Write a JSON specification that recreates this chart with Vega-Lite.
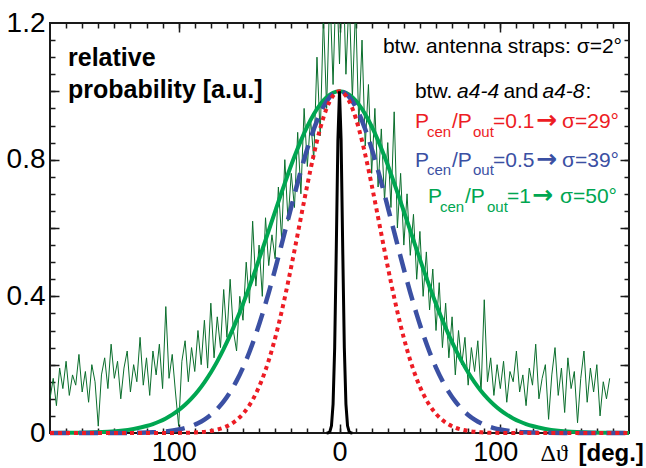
{
  "$schema": "https://vega.github.io/schema/vega-lite/v6.json",
  "width": 579,
  "height": 410,
  "autosize": {"type": "none"},
  "padding": {"left": 50, "top": 23, "right": 17, "bottom": 35},
  "background": "white",
  "config": {
    "view": {"stroke": "#1a1a1a", "strokeWidth": 2},
    "axis": {"grid": false, "domain": false, "tickColor": "#1a1a1a", "tickWidth": 1.5, "labelColor": "#000000", "title": null}
  },
  "datasets": {
    "noise": [
      {"x":-180,"y":0.10},{"x":-178,"y":0.16},{"x":-176,"y":0.08},{"x":-174,"y":0.19},{"x":-172,"y":0.13},{"x":-170,"y":0.21},{"x":-168,"y":0.11},{"x":-166,"y":0.17},{"x":-164,"y":0.14},{"x":-162,"y":0.23},{"x":-160,"y":0.12},{"x":-158,"y":0.18},{"x":-156,"y":0.09},{"x":-154,"y":0.20},{"x":-152,"y":0.15},{"x":-150,"y":0.02},{"x":-148,"y":0.17},{"x":-146,"y":0.22},{"x":-144,"y":0.13},{"x":-142,"y":0.26},{"x":-140,"y":0.16},{"x":-138,"y":0.21},{"x":-136,"y":0.10},{"x":-134,"y":0.19},{"x":-132,"y":0.24},{"x":-130,"y":0.12},{"x":-128,"y":0.20},{"x":-126,"y":0.15},{"x":-124,"y":0.28},{"x":-122,"y":0.14},{"x":-120,"y":0.22},{"x":-118,"y":0.11},{"x":-116,"y":0.24},{"x":-114,"y":0.17},{"x":-112,"y":0.26},{"x":-110,"y":0.13},{"x":-108,"y":0.37},{"x":-106,"y":0.16},{"x":-104,"y":0.23},{"x":-102,"y":0.12},{"x":-100,"y":0.02},{"x":-98,"y":0.21},{"x":-96,"y":0.27},{"x":-94,"y":0.15},{"x":-92,"y":0.25},{"x":-90,"y":0.18},{"x":-88,"y":0.30},{"x":-86,"y":0.20},{"x":-84,"y":0.33},{"x":-82,"y":0.19},{"x":-80,"y":0.38},{"x":-78,"y":0.22},{"x":-76,"y":0.34},{"x":-74,"y":0.25},{"x":-72,"y":0.42},{"x":-70,"y":0.28},{"x":-68,"y":0.45},{"x":-66,"y":0.30},{"x":-64,"y":0.24},{"x":-62,"y":0.40},{"x":-60,"y":0.33},{"x":-58,"y":0.50},{"x":-56,"y":0.38},{"x":-54,"y":0.62},{"x":-52,"y":0.43},{"x":-50,"y":0.55},{"x":-48,"y":0.40},{"x":-46,"y":0.63},{"x":-44,"y":0.49},{"x":-42,"y":0.58},{"x":-40,"y":0.51},{"x":-38,"y":0.72},{"x":-36,"y":0.57},{"x":-34,"y":0.80},{"x":-32,"y":0.62},{"x":-30,"y":0.76},{"x":-28,"y":0.66},{"x":-26,"y":0.88},{"x":-24,"y":0.70},{"x":-22,"y":0.95},{"x":-20,"y":0.78},{"x":-18,"y":0.92},{"x":-16,"y":0.80},{"x":-14,"y":1.10},{"x":-12,"y":0.87},{"x":-10,"y":1.22},{"x":-8,"y":0.95},{"x":-6,"y":1.30},{"x":-4,"y":1.02},{"x":-2,"y":1.35},{"x":0,"y":1.08},{"x":2,"y":1.40},{"x":4,"y":1.05},{"x":6,"y":1.28},{"x":8,"y":0.98},{"x":10,"y":1.25},{"x":12,"y":0.90},{"x":14,"y":1.15},{"x":16,"y":0.84},{"x":18,"y":1.02},{"x":20,"y":0.76},{"x":22,"y":0.95},{"x":24,"y":0.72},{"x":26,"y":0.89},{"x":28,"y":0.68},{"x":30,"y":0.85},{"x":32,"y":0.66},{"x":34,"y":0.94},{"x":36,"y":0.60},{"x":38,"y":0.76},{"x":40,"y":0.55},{"x":42,"y":0.70},{"x":44,"y":0.52},{"x":46,"y":0.64},{"x":48,"y":0.45},{"x":50,"y":0.59},{"x":52,"y":0.40},{"x":54,"y":0.53},{"x":56,"y":0.36},{"x":58,"y":0.48},{"x":60,"y":0.30},{"x":62,"y":0.44},{"x":64,"y":0.25},{"x":66,"y":0.38},{"x":68,"y":0.22},{"x":70,"y":0.34},{"x":72,"y":0.17},{"x":74,"y":0.30},{"x":76,"y":0.20},{"x":78,"y":0.28},{"x":80,"y":0.14},{"x":82,"y":0.25},{"x":84,"y":0.18},{"x":86,"y":0.27},{"x":88,"y":0.12},{"x":90,"y":0.39},{"x":92,"y":0.15},{"x":94,"y":0.22},{"x":96,"y":0.11},{"x":98,"y":0.20},{"x":100,"y":0.13},{"x":102,"y":0.21},{"x":104,"y":0.09},{"x":106,"y":0.18},{"x":108,"y":0.15},{"x":110,"y":0.24},{"x":112,"y":0.12},{"x":114,"y":0.17},{"x":116,"y":0.08},{"x":118,"y":0.19},{"x":120,"y":0.14},{"x":122,"y":0.26},{"x":124,"y":0.10},{"x":126,"y":0.16},{"x":128,"y":0.20},{"x":130,"y":0.04},{"x":132,"y":0.17},{"x":134,"y":0.25},{"x":136,"y":0.11},{"x":138,"y":0.19},{"x":140,"y":0.06},{"x":142,"y":0.22},{"x":144,"y":0.13},{"x":146,"y":0.18},{"x":148,"y":0.03},{"x":150,"y":0.16},{"x":152,"y":0.24},{"x":154,"y":0.09},{"x":156,"y":0.19},{"x":158,"y":0.12},{"x":160,"y":0.20},{"x":162,"y":0.05},{"x":164,"y":0.15},{"x":166,"y":0.10},{"x":168,"y":0.16}
    ],
    "green": [
      {"x":-180,"y":0},{"x":-164,"y":0.0007},{"x":-152,"y":0.0019},{"x":-144,"y":0.0037},{"x":-136,"y":0.0067},{"x":-128,"y":0.0119},{"x":-120,"y":0.0204},{"x":-116,"y":0.0263},{"x":-112,"y":0.0336},{"x":-108,"y":0.0427},{"x":-104,"y":0.0537},{"x":-100,"y":0.0669},{"x":-96,"y":0.0827},{"x":-92,"y":0.1014},{"x":-88,"y":0.1232},{"x":-84,"y":0.1484},{"x":-80,"y":0.1772},{"x":-76,"y":0.2097},{"x":-72,"y":0.2462},{"x":-68,"y":0.2864},{"x":-64,"y":0.3304},{"x":-60,"y":0.3778},{"x":-56,"y":0.4283},{"x":-52,"y":0.4813},{"x":-48,"y":0.5363},{"x":-44,"y":0.5925},{"x":-40,"y":0.6488},{"x":-36,"y":0.7044},{"x":-32,"y":0.7581},{"x":-28,"y":0.8090},{"x":-24,"y":0.8558},{"x":-20,"y":0.8975},{"x":-16,"y":0.9331},{"x":-12,"y":0.9618},{"x":-8,"y":0.9828},{"x":-4,"y":0.9957},{"x":0,"y":1},{"x":4,"y":0.9957},{"x":8,"y":0.9828},{"x":12,"y":0.9618},{"x":16,"y":0.9331},{"x":20,"y":0.8975},{"x":24,"y":0.8558},{"x":28,"y":0.8090},{"x":32,"y":0.7581},{"x":36,"y":0.7044},{"x":40,"y":0.6488},{"x":44,"y":0.5925},{"x":48,"y":0.5363},{"x":52,"y":0.4813},{"x":56,"y":0.4283},{"x":60,"y":0.3778},{"x":64,"y":0.3304},{"x":68,"y":0.2864},{"x":72,"y":0.2462},{"x":76,"y":0.2097},{"x":80,"y":0.1772},{"x":84,"y":0.1484},{"x":88,"y":0.1232},{"x":92,"y":0.1014},{"x":96,"y":0.0827},{"x":100,"y":0.0669},{"x":104,"y":0.0537},{"x":108,"y":0.0427},{"x":112,"y":0.0336},{"x":116,"y":0.0263},{"x":120,"y":0.0204},{"x":128,"y":0.0119},{"x":136,"y":0.0067},{"x":144,"y":0.0037},{"x":152,"y":0.0019},{"x":164,"y":0.0007},{"x":180,"y":0}
    ],
    "blue": [
      {"x":-180,"y":0},{"x":-140,"y":0.0001},{"x":-124,"y":0.0009},{"x":-116,"y":0.0021},{"x":-108,"y":0.0047},{"x":-100,"y":0.0101},{"x":-96,"y":0.0145},{"x":-92,"y":0.0205},{"x":-88,"y":0.0286},{"x":-84,"y":0.0392},{"x":-80,"y":0.0529},{"x":-76,"y":0.0705},{"x":-72,"y":0.0925},{"x":-68,"y":0.1197},{"x":-64,"y":0.1525},{"x":-60,"y":0.1915},{"x":-56,"y":0.2369},{"x":-52,"y":0.2890},{"x":-48,"y":0.3472},{"x":-44,"y":0.4111},{"x":-40,"y":0.4797},{"x":-36,"y":0.5516},{"x":-32,"y":0.6249},{"x":-28,"y":0.6977},{"x":-24,"y":0.7676},{"x":-20,"y":0.8322},{"x":-16,"y":0.8891},{"x":-12,"y":0.9360},{"x":-8,"y":0.9710},{"x":-4,"y":0.9927},{"x":0,"y":1},{"x":4,"y":0.9927},{"x":8,"y":0.9710},{"x":12,"y":0.9360},{"x":16,"y":0.8891},{"x":20,"y":0.8322},{"x":24,"y":0.7676},{"x":28,"y":0.6977},{"x":32,"y":0.6249},{"x":36,"y":0.5516},{"x":40,"y":0.4797},{"x":44,"y":0.4111},{"x":48,"y":0.3472},{"x":52,"y":0.2890},{"x":56,"y":0.2369},{"x":60,"y":0.1915},{"x":64,"y":0.1525},{"x":68,"y":0.1197},{"x":72,"y":0.0925},{"x":76,"y":0.0705},{"x":80,"y":0.0529},{"x":84,"y":0.0392},{"x":88,"y":0.0286},{"x":92,"y":0.0205},{"x":96,"y":0.0145},{"x":100,"y":0.0101},{"x":108,"y":0.0047},{"x":116,"y":0.0021},{"x":124,"y":0.0009},{"x":140,"y":0.0001},{"x":180,"y":0}
    ],
    "red": [
      {"x":-180,"y":0},{"x":-110,"y":0},{"x":-96,"y":0.0006},{"x":-88,"y":0.0020},{"x":-80,"y":0.0060},{"x":-76,"y":0.0098},{"x":-72,"y":0.0158},{"x":-68,"y":0.0247},{"x":-64,"y":0.0378},{"x":-60,"y":0.0561},{"x":-56,"y":0.0814},{"x":-52,"y":0.1150},{"x":-48,"y":0.1583},{"x":-44,"y":0.2125},{"x":-40,"y":0.2780},{"x":-36,"y":0.3546},{"x":-32,"y":0.4408},{"x":-28,"y":0.5341},{"x":-24,"y":0.6308},{"x":-20,"y":0.7261},{"x":-16,"y":0.8148},{"x":-12,"y":0.8912},{"x":-8,"y":0.9501},{"x":-4,"y":0.9873},{"x":0,"y":1},{"x":4,"y":0.9873},{"x":8,"y":0.9501},{"x":12,"y":0.8912},{"x":16,"y":0.8148},{"x":20,"y":0.7261},{"x":24,"y":0.6308},{"x":28,"y":0.5341},{"x":32,"y":0.4408},{"x":36,"y":0.3546},{"x":40,"y":0.2780},{"x":44,"y":0.2125},{"x":48,"y":0.1583},{"x":52,"y":0.1150},{"x":56,"y":0.0814},{"x":60,"y":0.0561},{"x":64,"y":0.0378},{"x":68,"y":0.0247},{"x":72,"y":0.0158},{"x":76,"y":0.0098},{"x":80,"y":0.0060},{"x":88,"y":0.0020},{"x":96,"y":0.0006},{"x":110,"y":0},{"x":180,"y":0}
    ],
    "black": [
      {"x":-8,"y":0},{"x":-7,"y":0.0005},{"x":-6,"y":0.0039},{"x":-5,"y":0.0211},{"x":-4,"y":0.0847},{"x":-3,"y":0.2494},{"x":-2,"y":0.5394},{"x":-1,"y":0.857},{"x":0,"y":1},{"x":1,"y":0.857},{"x":2,"y":0.5394},{"x":3,"y":0.2494},{"x":4,"y":0.0847},{"x":5,"y":0.0211},{"x":6,"y":0.0039},{"x":7,"y":0.0005},{"x":8,"y":0}
    ]
  },
  "resolve": {"axis": {"x": "independent", "y": "independent"}},
  "layer": [
    {
      "data": {"name": "noise"},
      "mark": {"type": "line", "color": "#0a6e2c", "strokeWidth": 1, "clip": true},
      "encoding": {
        "x": {"field": "x", "type": "quantitative", "scale": {"domain": [-180, 180], "nice": false, "zero": false},
          "axis": {"orient": "bottom", "values": [-100, 0, 100], "ticks": false, "labelExpr": "format(abs(datum.value), 'd')",
            "labelFont": "Liberation Sans", "labelFontSize": 27, "labelPadding": 6,
            "labelOffset": {"condition": {"test": "datum.value != 0", "value": -5}, "value": 0},
            "title": "Δϑ", "titleFont": "Liberation Serif", "titleFontSize": 24, "titleFontWeight": "normal",
            "titleX": 490, "titleY": 27, "titleAlign": "left", "titleBaseline": "alphabetic", "titleAngle": 0}},
        "y": {"field": "y", "type": "quantitative", "scale": {"domain": [0, 1.2], "nice": false},
          "axis": {"orient": "left", "values": [0, 0.4, 0.8, 1.2], "ticks": false, "labelExpr": "datum.value == 0 ? '0' : format(datum.value, '.1f')",
            "labelFont": "Liberation Sans", "labelFontSize": 28, "labelPadding": 5, "title": null}}
      }
    },
    {
      "data": {"name": "green"},
      "mark": {"type": "line", "color": "#00a651", "strokeWidth": 4, "interpolate": "monotone"},
      "encoding": {
        "x": {"field": "x", "type": "quantitative", "scale": {"domain": [-180, 180], "nice": false, "zero": false},
          "axis": {"orient": "bottom", "values": [-170,-160,-150,-140,-130,-120,-110,-100,-90,-80,-70,-60,-50,-40,-30,-20,-10,0,10,20,30,40,50,60,70,80,90,100,110,120,130,140,150,160,170],
            "labels": false, "tickSize": -5,
            "title": "[deg.]", "titleFont": "Liberation Sans", "titleFontSize": 24, "titleFontWeight": "bold",
            "titleX": 528, "titleY": 27, "titleAlign": "left", "titleBaseline": "alphabetic", "titleAngle": 0}},
        "y": {"field": "y", "type": "quantitative", "scale": {"domain": [0, 1.2], "nice": false},
          "axis": {"orient": "left", "values": [0.05,0.1,0.15,0.2,0.25,0.3,0.35,0.4,0.45,0.5,0.55,0.6,0.65,0.7,0.75,0.8,0.85,0.9,0.95,1.0,1.05,1.1,1.15],
            "labels": false, "tickSize": -5, "title": null}}
      }
    },
    {
      "data": {"name": "blue"},
      "mark": {"type": "line", "color": "#3b50a3", "strokeWidth": 4.5, "strokeDash": [19, 10], "interpolate": "monotone"},
      "encoding": {
        "x": {"field": "x", "type": "quantitative", "scale": {"domain": [-180, 180], "nice": false, "zero": false},
          "axis": {"orient": "bottom", "values": [-100, 0, 100], "labels": false, "tickSize": -9, "title": null}},
        "y": {"field": "y", "type": "quantitative", "scale": {"domain": [0, 1.2], "nice": false},
          "axis": {"orient": "left", "values": [0.2, 0.4, 0.6, 0.8, 1.0], "labels": false, "tickSize": -9, "title": null}}
      }
    },
    {
      "data": {"name": "red"},
      "mark": {"type": "line", "color": "#ed1c24", "strokeWidth": 4, "strokeDash": [4, 4], "interpolate": "monotone"},
      "encoding": {
        "x": {"field": "x", "type": "quantitative", "scale": {"domain": [-180, 180], "nice": false, "zero": false},
          "axis": {"orient": "top", "values": [-170,-160,-150,-140,-130,-120,-110,-100,-90,-80,-70,-60,-50,-40,-30,-20,-10,0,10,20,30,40,50,60,70,80,90,100,110,120,130,140,150,160,170],
            "labels": false, "tickSize": -5, "title": null}},
        "y": {"field": "y", "type": "quantitative", "scale": {"domain": [0, 1.2], "nice": false},
          "axis": {"orient": "right", "values": [0.05,0.1,0.15,0.2,0.25,0.3,0.35,0.4,0.45,0.5,0.55,0.6,0.65,0.7,0.75,0.8,0.85,0.9,0.95,1.0,1.05,1.1,1.15],
            "labels": false, "tickSize": -5, "title": null}}
      }
    },
    {
      "data": {"name": "black"},
      "mark": {"type": "line", "color": "#000000", "strokeWidth": 3},
      "encoding": {
        "x": {"field": "x", "type": "quantitative", "scale": {"domain": [-180, 180], "nice": false, "zero": false},
          "axis": {"orient": "top", "values": [-100, 0, 100], "labels": false, "tickSize": -9, "title": null}},
        "y": {"field": "y", "type": "quantitative", "scale": {"domain": [0, 1.2], "nice": false},
          "axis": {"orient": "right", "values": [0.2, 0.4, 0.6, 0.8, 1.0], "labels": false, "tickSize": -9, "title": null}}
      }
    },
    {
      "data": {"values": [
        {"x": -168.8, "y": 1.074, "t": "relative"},
        {"x": -168.8, "y": 0.980, "t": "probability [a.u.]"}
      ]},
      "mark": {"type": "text", "align": "left", "baseline": "alphabetic", "font": "Liberation Sans", "fontWeight": "bold", "fontSize": 25, "color": "#000000"},
      "encoding": {
        "x": {"field": "x", "type": "quantitative", "scale": {"domain": [-180, 180], "nice": false, "zero": false}, "axis": null},
        "y": {"field": "y", "type": "quantitative", "scale": {"domain": [0, 1.2], "nice": false}, "axis": null},
        "text": {"field": "t"}
      }
    },
    {
      "data": {"values": [
        {"x": 27.0, "y": 1.112, "t": "btw. antenna straps: σ=2°", "c": "k"},
        {"x": 46.9, "y": 0.980, "t": "btw.", "c": "k"},
        {"x": 101.9, "y": 0.980, "t": "and", "c": "k"},
        {"x": 153.0, "y": 0.980, "t": ":", "c": "k"},
        {"x": 46.94, "y": 0.8927, "t": "P", "c": "r"},
        {"x": 69.95, "y": 0.8927, "t": "/P", "c": "r"},
        {"x": 95.45, "y": 0.8927, "t": "=0.1", "c": "r"},
        {"x": 138.35, "y": 0.8927, "t": "σ=29°", "c": "r"},
        {"x": 46.94, "y": 0.7785, "t": "P", "c": "b"},
        {"x": 69.95, "y": 0.7785, "t": "/P", "c": "b"},
        {"x": 95.45, "y": 0.7785, "t": "=0.5", "c": "b"},
        {"x": 138.35, "y": 0.7785, "t": "σ=39°", "c": "b"},
        {"x": 55.03, "y": 0.6732, "t": "P", "c": "g"},
        {"x": 78.03, "y": 0.6732, "t": "/P", "c": "g"},
        {"x": 104.15, "y": 0.6732, "t": "=1", "c": "g"},
        {"x": 137.1, "y": 0.6732, "t": "σ=50°", "c": "g"}
      ]},
      "mark": {"type": "text", "align": "left", "baseline": "alphabetic", "font": "Liberation Sans", "fontSize": 21},
      "encoding": {
        "x": {"field": "x", "type": "quantitative", "scale": {"domain": [-180, 180], "nice": false, "zero": false}, "axis": null},
        "y": {"field": "y", "type": "quantitative", "scale": {"domain": [0, 1.2], "nice": false}, "axis": null},
        "text": {"field": "t"},
        "color": {"field": "c", "type": "nominal", "scale": {"domain": ["k", "r", "b", "g"], "range": ["#000000", "#ed1c24", "#3b50a3", "#00a651"]}, "legend": null}
      }
    },
    {
      "data": {"values": [
        {"x": 122.2, "y": 0.8927, "t": "→", "c": "r"},
        {"x": 122.2, "y": 0.7785, "t": "→", "c": "b"},
        {"x": 119.7, "y": 0.6732, "t": "→", "c": "g"}
      ]},
      "mark": {"type": "text", "align": "left", "baseline": "alphabetic", "font": "DejaVu Sans", "fontWeight": "bold", "fontSize": 25},
      "encoding": {
        "x": {"field": "x", "type": "quantitative", "scale": {"domain": [-180, 180], "nice": false, "zero": false}, "axis": null},
        "y": {"field": "y", "type": "quantitative", "scale": {"domain": [0, 1.2], "nice": false}, "axis": null},
        "text": {"field": "t"},
        "color": {"field": "c", "type": "nominal", "scale": {"domain": ["k", "r", "b", "g"], "range": ["#000000", "#ed1c24", "#3b50a3", "#00a651"]}, "legend": null}
      }
    },
    {
      "data": {"values": [
        {"x": 54.41, "y": 0.8663, "t": "cen", "c": "r"},
        {"x": 83.01, "y": 0.8663, "t": "out", "c": "r"},
        {"x": 54.41, "y": 0.7551, "t": "cen", "c": "b"},
        {"x": 83.01, "y": 0.7551, "t": "out", "c": "b"},
        {"x": 62.49, "y": 0.6468, "t": "cen", "c": "g"},
        {"x": 91.71, "y": 0.6468, "t": "out", "c": "g"}
      ]},
      "mark": {"type": "text", "align": "left", "baseline": "alphabetic", "font": "Liberation Sans", "fontSize": 15},
      "encoding": {
        "x": {"field": "x", "type": "quantitative", "scale": {"domain": [-180, 180], "nice": false, "zero": false}, "axis": null},
        "y": {"field": "y", "type": "quantitative", "scale": {"domain": [0, 1.2], "nice": false}, "axis": null},
        "text": {"field": "t"},
        "color": {"field": "c", "type": "nominal", "scale": {"domain": ["k", "r", "b", "g"], "range": ["#000000", "#ed1c24", "#3b50a3", "#00a651"]}, "legend": null}
      }
    },
    {
      "data": {"values": [
        {"x": 73.1, "y": 0.980, "t": "a4-4"},
        {"x": 126.2, "y": 0.980, "t": "a4-8"}
      ]},
      "mark": {"type": "text", "align": "left", "baseline": "alphabetic", "font": "Liberation Sans", "fontStyle": "italic", "fontSize": 21, "color": "#000000"},
      "encoding": {
        "x": {"field": "x", "type": "quantitative", "scale": {"domain": [-180, 180], "nice": false, "zero": false}, "axis": null},
        "y": {"field": "y", "type": "quantitative", "scale": {"domain": [0, 1.2], "nice": false}, "axis": null},
        "text": {"field": "t"}
      }
    }
  ]
}
